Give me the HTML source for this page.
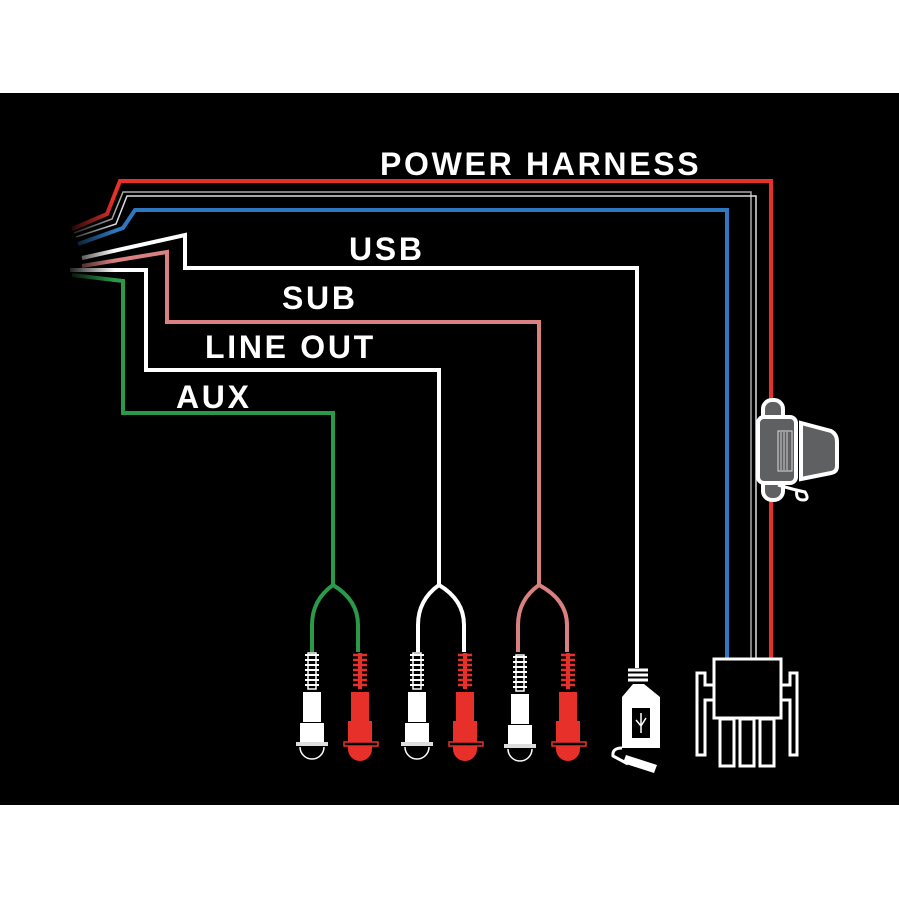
<!DOCTYPE html>
<html><head><style>body{margin:0;background:#fff}svg{display:block}</style></head>
<body>
<svg width="899" height="899" viewBox="0 0 899 899" xmlns="http://www.w3.org/2000/svg">
<defs>
<linearGradient id="fade" x1="0" x2="1"><stop offset="0.55" stop-color="#000"/><stop offset="1" stop-color="#000" stop-opacity="0"/></linearGradient>
<g id="plugW">
<path d="M-7 0h14M-7 5h14M-7 10h14M-7 15h14M-7 20h14M-7 25h14M-7 30h14" stroke="#fff" stroke-width="2"/>
<rect x="-4" y="-2" width="8" height="36" fill="none" stroke="#fff" stroke-width="1.5"/>
<rect x="-9" y="37" width="18" height="30" fill="#fff"/>
<rect x="-12" y="68" width="24" height="19" fill="#fff"/>
<rect x="-16" y="87" width="32" height="4" fill="#ddd"/>
<path d="M-12 92 A12 12 0 0 0 12 92" fill="none" stroke="#fff" stroke-width="1.5"/>
</g>
<g id="plugR">
<path d="M-7 0h14M-7 5h14M-7 10h14M-7 15h14M-7 20h14M-7 25h14M-7 30h14" stroke="#e8302b" stroke-width="2.5"/>
<rect x="-2" y="-2" width="4" height="36" fill="#e8302b"/>
<rect x="-9" y="37" width="18" height="30" fill="#e8302b"/>
<rect x="-12" y="66" width="24" height="21" fill="#e8302b"/>
<rect x="-16" y="87" width="34" height="4" fill="none" stroke="#e8302b" stroke-width="1.5"/>
<path d="M-12 91 v3 A12 12 0 0 0 12 94 v-3z" fill="#e8302b"/>
</g>
</defs>
<rect x="0" y="93" width="899" height="712" fill="#000"/>
<g fill="none" stroke-linejoin="miter">
<path d="M72 229 L107 214 L120 181 H771 V660" stroke="#e8302b" stroke-width="4"/>
<path d="M74 233 L112 219 L123 192 H751 V660" stroke="#aaa" stroke-width="1.5"/>
<path d="M76 237 L116 224 L127 196 H756 V660" stroke="#ddd" stroke-width="1.5"/>
<path d="M78 244 L123 228 L135 210 H727 V660" stroke="#2e78c2" stroke-width="4"/>
<path d="M82 258 L185 235 V268 H637 V668" stroke="#fff" stroke-width="4"/>
<path d="M82 266 L167 252 V322 H539 V585" stroke="#d98080" stroke-width="4"/>
<path d="M70 270 H146 V370 H439 V585" stroke="#fff" stroke-width="4"/>
<path d="M72 275 L123 281 V413 H333 V585" stroke="#2a9a48" stroke-width="4"/>
<path d="M333 585 Q312 600 312 625 V652 M333 585 Q358 600 358 625 V652" stroke="#2a9a48" stroke-width="4"/>
<path d="M439 585 Q418 600 418 625 V652 M439 585 Q464 600 464 625 V652" stroke="#fff" stroke-width="4"/>
<path d="M539 585 Q518 600 518 625 V652 M539 585 Q567 600 567 625 V652" stroke="#d98080" stroke-width="4"/>
</g>
<rect x="0" y="200" width="115" height="100" fill="url(#fade)"/>
<use href="#plugW" x="312" y="655"/><use href="#plugR" x="360" y="655"/>
<use href="#plugW" x="417" y="655"/><use href="#plugR" x="465" y="655"/>
<use href="#plugW" x="520" y="657"/><use href="#plugR" x="568" y="655"/>
<!-- USB -->
<path d="M628 670h20M628 675h20M628 680h20" stroke="#fff" stroke-width="3"/>
<path d="M633 684 H644 L660 697 V748 H622 V697 Z" fill="#fff"/>
<rect x="632" y="708" width="18" height="30" fill="#000"/>
<path d="M641 713 V733 M636 720 L641 726 L646 718" stroke="#fff" stroke-width="1.5" fill="none"/>
<path d="M622 748 Q612 748 613 756 L628 764" fill="none" stroke="#fff" stroke-width="3"/>
<path d="M626 755 L657 765 L654 773 L623 763 Z" fill="#fff"/>
<!-- fuse -->
<g stroke="#fff" stroke-width="4" fill="#5f6062">
<rect x="763" y="400" width="20" height="100" rx="9"/>
<rect x="758" y="417" width="38" height="66" rx="6"/>
<path d="M801 423 L831 431 Q837 434 837 442 V466 Q837 472 831 473 L801 479 Z"/>
</g>
<path d="M778 485 Q795 490 805 492 Q810 500 803 500 Q795 500 797 490" fill="none" stroke="#fff" stroke-width="3"/>
<rect x="778" y="431" width="14" height="40" fill="none" stroke="#ddd" stroke-width="1"/>
<path d="M781 432v38M784 432v38M787 432v38" stroke="#ccc"/>
<!-- connector -->
<g fill="none" stroke="#fff" stroke-width="3">
<rect x="714" y="659" width="67" height="59"/>
<rect x="720" y="719" width="14" height="47"/><rect x="740" y="719" width="14" height="47"/><rect x="760" y="719" width="14" height="47"/>
<path d="M714 685 H705 V673 H697 V755 H705 V700 H714"/>
<path d="M781 685 H790 V673 H797 V755 H790 V700 H781"/>
</g>
<g font-family="Liberation Sans, sans-serif" font-weight="bold" font-size="32" fill="#fff" letter-spacing="2.7">
<text x="380" y="175">POWER HARNESS</text>
<text x="349" y="260">USB</text>
<text x="282" y="309">SUB</text>
<text x="205" y="358">LINE OUT</text>
<text x="176" y="408">AUX</text>
</g>
</svg>
</body></html>
